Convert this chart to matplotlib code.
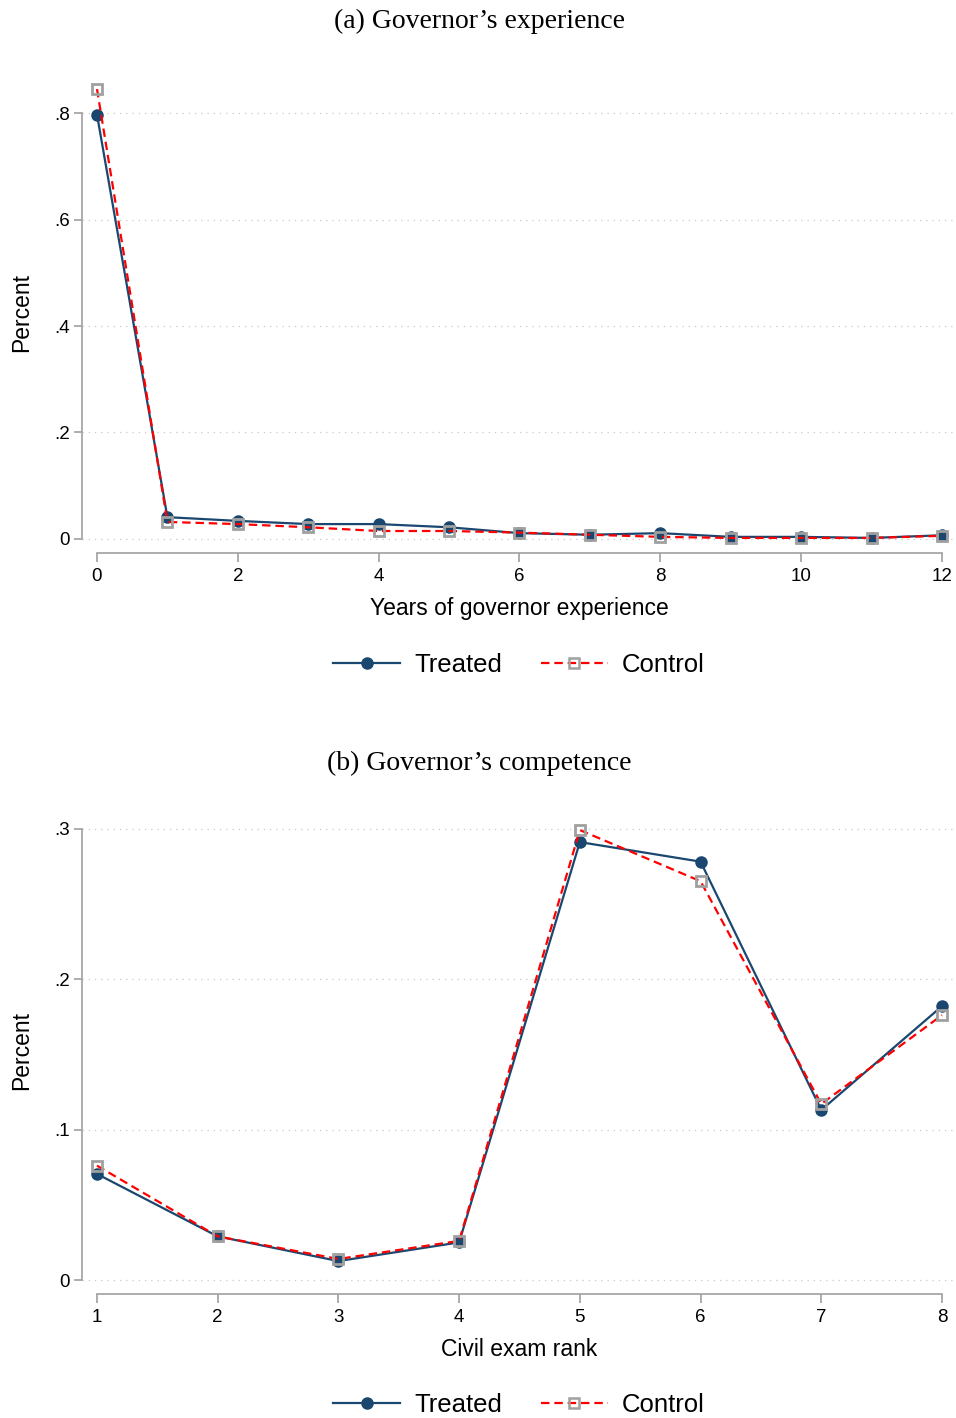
import matplotlib
matplotlib.use("Agg")
import matplotlib.pyplot as plt
from matplotlib.lines import Line2D

# Panel (a) data
exp_years = [0, 1, 2, 3, 4, 5, 6, 7, 8, 9, 10, 11, 12]
exp_treated = [0.797, 0.041, 0.034, 0.028, 0.028, 0.022, 0.011, 0.008, 0.011, 0.004, 0.004, 0.002, 0.007]
exp_control = [0.845, 0.032, 0.028, 0.022, 0.015, 0.015, 0.012, 0.008, 0.004, 0.002, 0.002, 0.002, 0.006]
exp_xticks = [0, 2, 4, 6, 8, 10, 12]
exp_yticks = [0, 0.2, 0.4, 0.6, 0.8]
exp_yticklabels = ["0", ".2", ".4", ".6", ".8"]

# Panel (b) data
rank = [1, 2, 3, 4, 5, 6, 7, 8]
rank_treated = [0.0705, 0.029, 0.0126, 0.025, 0.291, 0.278, 0.113, 0.182]
rank_control = [0.076, 0.029, 0.014, 0.026, 0.299, 0.265, 0.117, 0.176]
rank_yticks = [0, 0.1, 0.2, 0.3]
rank_yticklabels = ["0", ".1", ".2", ".3"]

NAVY = "#1a476f"
RED = "#ff0000"
GRAY = "#a0a0a0"
SANS = ["Liberation Sans", "DejaVu Sans"]
SERIF = ["Liberation Serif", "DejaVu Serif"]
DASH = (0, (3.8, 2.2))

W, H = 956, 1418
fig = plt.figure(figsize=(W / 100, H / 100), dpi=100)


def frac(px_left, px_top, px_right, px_bottom):
    return [px_left / W, 1 - px_bottom / H, (px_right - px_left) / W, (px_bottom - px_top) / H]


def style(ax, xs, xticks, yticks, yticklabels, xlim, ylim, xlabel):
    ax.set_xlim(*xlim)
    ax.set_ylim(*ylim)
    for s in ["top", "right"]:
        ax.spines[s].set_visible(False)
    for s in ["left", "bottom"]:
        ax.spines[s].set_color(GRAY)
        ax.spines[s].set_linewidth(1.2)
    ax.spines["left"].set_bounds(yticks[0], yticks[-1])
    ax.spines["bottom"].set_bounds(xs[0], xs[-1])
    ax.spines["bottom"].set_position(("outward", 6.5))
    ax.set_xticks(xticks)
    ax.set_xticklabels([str(t) for t in xticks], fontfamily=SANS, fontsize=13.5)
    ax.set_yticks(yticks)
    ax.set_yticklabels(yticklabels, fontfamily=SANS, fontsize=13.5)
    ax.tick_params(axis="both", colors=GRAY, width=1.2, labelcolor="black")
    ax.tick_params(axis="x", length=6.5, pad=4)
    ax.tick_params(axis="y", length=5.5, pad=3)
    for y in yticks:
        ax.axhline(y, color="#c8c8c8", lw=0.9, ls=(0, (1, 4)), zorder=0)
    ax.set_xlabel(xlabel, fontfamily=SANS, fontsize=16.5, labelpad=9)
    ax.set_ylabel("Percent", fontfamily=SANS, fontsize=16.5, labelpad=15)


def plot_series(ax, x, t, c):
    ax.plot(x, t, color=NAVY, lw=1.6, marker="o", ms=8, mfc=NAVY, mec=NAVY, zorder=3)
    ax.plot(x, c, color=RED, lw=1.6, ls=DASH, marker="s", ms=7, mfc="none",
            mec=GRAY, mew=2.0, zorder=4)


handles = [
    Line2D([0], [0], color=NAVY, lw=1.6, marker="o", ms=8, mfc=NAVY, mec=NAVY),
    Line2D([0], [0], color=RED, lw=1.6, ls=DASH, marker="s", ms=6.5, mfc="none", mec=GRAY, mew=1.8),
]

LEG = dict(ncol=2, frameon=False, prop={"family": SANS, "size": 18.5}, handlelength=2.6,
           columnspacing=1.5, handletextpad=0.55, loc="center")

# Panel (a)
ax1 = fig.add_axes(frac(82, 80, 956, 544))
plot_series(ax1, exp_years, exp_treated, exp_control)
style(ax1, exp_years, exp_xticks, exp_yticks, exp_yticklabels,
      (-0.213, 12.2), (-0.0094, 0.862), "Years of governor experience")
fig.text(479 / W, 1 - 21 / H, "(a) Governor\u2019s experience", ha="center", va="center",
         fontfamily=SERIF, fontsize=20)
fig.legend(handles, ["Treated", "Control"], bbox_to_anchor=(519 / W, 1 - 665 / H), **LEG)

# Panel (b)
ax2 = fig.add_axes(frac(82, 815, 956, 1285))
plot_series(ax2, rank, rank_treated, rank_control)
style(ax2, rank, rank, rank_yticks, rank_yticklabels,
      (0.876, 8.116), (-0.0033, 0.309), "Civil exam rank")
fig.text(479 / W, 1 - 763 / H, "(b) Governor\u2019s competence", ha="center", va="center",
         fontfamily=SERIF, fontsize=20)
fig.legend(handles, ["Treated", "Control"], bbox_to_anchor=(519 / W, 1 - 1405 / H), **LEG)

fig.savefig("out.png", dpi=100, facecolor="white")
